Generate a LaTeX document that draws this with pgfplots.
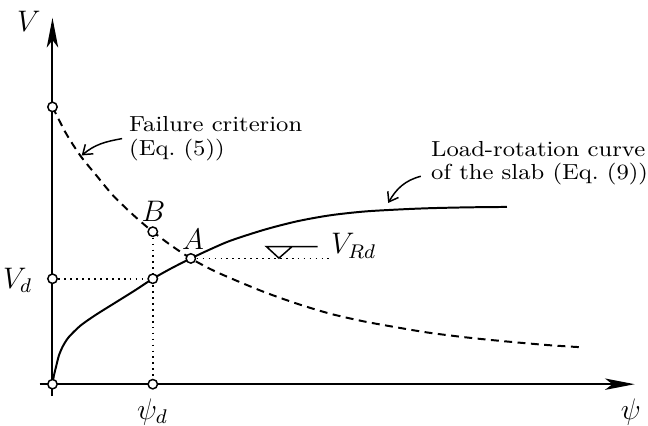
\documentclass[border=0pt]{standalone}
\usepackage{pgfplots}
\pgfplotsset{compat=1.18}
\usepackage{graphicx}
\usetikzlibrary{arrows.meta}

\newcommand{\lbl}{\fontsize{12}{14}\selectfont}
\newcommand{\ann}{\fontsize{8.8}{9.6}\selectfont}
\newcommand{\wide}[1]{\scalebox{1.1}[1]{#1}}

\begin{document}
\begin{tikzpicture}
\begin{axis}[
    scale only axis, width=259.2pt, height=172pt,
    xmin=-53, xmax=595, ymin=-42, ymax=388,
    axis lines=none, clip=false,
]
\path (rel axis cs:0,0) rectangle (rel axis cs:1,1);

% axes
\addplot[line width=0.8pt, -{Stealth[length=12pt,width=4.6pt,inset=3pt]}]
    coordinates {(-13,0) (588,0)};
\addplot[line width=0.8pt, -{Stealth[length=12pt,width=4.6pt,inset=3pt]}]
    coordinates {(0,-12) (0,370)};

% dotted guides
\addplot[line width=0.75pt, dash pattern=on 0.7pt off 1.7pt] coordinates {(0,106.5) (101.3,106.5)};
\addplot[line width=0.75pt, dash pattern=on 0.7pt off 1.7pt] coordinates {(101.3,154) (101.3,0)};
\addplot[line width=0.75pt, dash pattern=on 0.7pt off 1.7pt] coordinates {(139.7,127) (280,127)};

% failure criterion
\addplot[line width=0.8pt, dash pattern=on 3.2pt off 2.2pt, smooth] coordinates {
(0,280) (7,266) (15,251) (28.7,230) (45,210) (60.3,191.5) (75,177) (87,166)
(101.3,154) (120,140) (139.7,127) (160,116) (180,107) (214,93) (247,81.3)
(280,71.3) (314,63.5) (347,57.5) (380,52) (420,47) (460,43) (500,39.5) (534,37.3)};

% load-rotation curve
\addplot[line width=0.8pt, smooth] coordinates {
(0,0) (1.5,9) (3.7,18) (6.5,29) (10.3,38) (14.5,45) (18.7,50) (28.7,59.5)
(43.7,70) (63.7,82.5) (83.7,95) (101.3,106.5) (120,117) (139.7,127) (160,136.5)
(180,145) (214,156) (247,164.5) (280,170.5) (314,174.3) (347,176.3) (380,177.7)
(420,178.6) (459,179)};

% V_Rd symbol
\addplot[line width=0.6pt] coordinates {(267.7,139) (216,139) (228.7,127.3) (242,139)};

% points
\addplot[only marks, mark=*, mark size=1.9pt,
    mark options={fill=white, draw=black, line width=0.6pt}]
    coordinates {(0,280) (0,106.5) (0,0) (101.3,0) (101.3,106.5) (101.3,154) (139.7,127)};

% labels
\node[font=\lbl, inner sep=0pt] at (axis cs:-24,366) {$V$};
\node[font=\lbl, inner sep=0pt, anchor=east] at (axis cs:-20,105) {$V_d$};
\node[font=\lbl, inner sep=0pt] at (axis cs:101,-28) {$\psi_d$};
\node[font=\lbl, inner sep=0pt] at (axis cs:584,-28) {$\psi$};
\node[font=\lbl, inner sep=0pt] at (axis cs:102,175) {$B$};
\node[font=\lbl, inner sep=0pt] at (axis cs:142,146) {$A$};
\node[font=\lbl, inner sep=0pt, anchor=west] at (axis cs:281,139.5) {$V_{Rd}$};

% annotations
\node[anchor=north west, inner sep=0pt, align=left, font=\ann]
    at (axis cs:77,271) {\wide{Failure criterion}\\\wide{(Eq.\ (5))}};
\draw[line width=0.6pt, -{Straight Barb[length=3.5pt,width=5pt]}]
    (axis cs:70.3,248) to[out=190, in=40] (axis cs:29.5,231);

\node[anchor=north west, inner sep=0pt, align=left, font=\ann]
    at (axis cs:382,246) {\wide{Load-rotation curve}\\\wide{of the slab (Eq.\ (9))}};
\draw[line width=0.6pt, -{Straight Barb[length=3.5pt,width=5pt]}]
    (axis cs:372,210) to[out=195, in=60] (axis cs:339,183);
\end{axis}
\end{tikzpicture}
\end{document}
